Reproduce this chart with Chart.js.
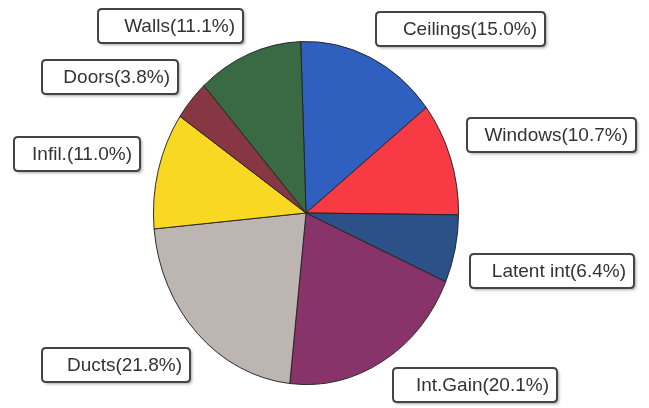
<!DOCTYPE html>
<html>
<head>
<meta charset="utf-8">
<script src="https://cdn.jsdelivr.net/npm/chart.js@4/dist/chart.umd.min.js"></script>
<style>
  html, body { margin: 0; padding: 0; background: #fff; }
  #wrap { width: 649px; height: 408px; position: relative; }
</style>
</head>
<body>
<div id="wrap"><canvas id="loadChart" width="649" height="408"></canvas></div>
<script>
// Load breakdown, clockwise from the top
const categories = ['Ceilings', 'Windows', 'Latent int', 'Int.Gain', 'Ducts', 'Infil.', 'Doors', 'Walls'];
const shares = [15.0, 10.7, 6.4, 20.1, 21.8, 11.0, 3.8, 11.1];
const sliceColors = ['#2f60c0', '#f83a44', '#2c5088', '#88346a', '#bdb5b2', '#f9d823', '#873644', '#3a6a44'];

// label boxes: left, top, width
const labelBoxes = [[376, 12, 169], [467, 118, 169], [470, 254, 164], [393, 368, 164],
                    [42, 348, 148], [14, 137, 126], [42, 60, 136], [98, 9, 145]];

const squash = 153 / 172; // pie is drawn a bit narrower than tall

const ellipsePlugin = {
    id: 'ellipse',
    beforeDatasetsDraw(chart) {
        const arc = chart.getDatasetMeta(0).data[0];
        const ctx = chart.ctx;
        ctx.save();
        ctx.translate(arc.x, arc.y);
        ctx.scale(squash, 1);
        ctx.translate(-arc.x, -arc.y);
    },
    afterDatasetsDraw(chart) {
        chart.ctx.restore();
    }
};

function roundRect(ctx, x, y, w, h, r) {
    ctx.beginPath();
    ctx.moveTo(x + r, y);
    ctx.lineTo(x + w - r, y);
    ctx.quadraticCurveTo(x + w, y, x + w, y + r);
    ctx.lineTo(x + w, y + h - r);
    ctx.quadraticCurveTo(x + w, y + h, x + w - r, y + h);
    ctx.lineTo(x + r, y + h);
    ctx.quadraticCurveTo(x, y + h, x, y + h - r);
    ctx.lineTo(x, y + r);
    ctx.quadraticCurveTo(x, y, x + r, y);
    ctx.closePath();
}

const boxLabels = {
    id: 'boxLabels',
    afterDraw(chart) {
        const ctx = chart.ctx;
        ctx.save();
        ctx.font = '19px "Liberation Sans", Arial, sans-serif';
        ctx.textBaseline = 'middle';
        ctx.textAlign = 'right';
        categories.forEach((name, i) => {
            const text = name + '(' + shares[i].toFixed(1) + '%)';
            const [x, y, w] = labelBoxes[i];
            const h = 34;
            ctx.save();
            ctx.shadowColor = 'rgba(0,0,0,0.35)';
            ctx.shadowBlur = 3;
            ctx.shadowOffsetX = 2;
            ctx.shadowOffsetY = 2;
            roundRect(ctx, x, y, w, h, 4);
            ctx.fillStyle = '#fff';
            ctx.fill();
            ctx.restore();
            roundRect(ctx, x, y, w, h, 4);
            ctx.lineWidth = 2;
            ctx.strokeStyle = '#444';
            ctx.stroke();
            ctx.fillStyle = '#333';
            ctx.fillText(text, x + w - 8, y + h / 2 + 1);
        });
        ctx.restore();
    }
};

new Chart(document.getElementById('loadChart').getContext('2d'), {
    type: 'pie',
    data: {
        labels: categories,
        datasets: [{
            data: shares,
            backgroundColor: sliceColors,
            borderColor: '#222',
            borderWidth: 1
        }]
    },
    options: {
        responsive: false,
        animation: false,
        events: [],
        rotation: -2,
        layout: {
            padding: { left: 134, right: 171, top: 41, bottom: 23 }
        },
        plugins: {
            legend: { display: false },
            tooltip: { enabled: false }
        }
    },
    plugins: [ellipsePlugin, boxLabels]
});
</script>
</body>
</html>
